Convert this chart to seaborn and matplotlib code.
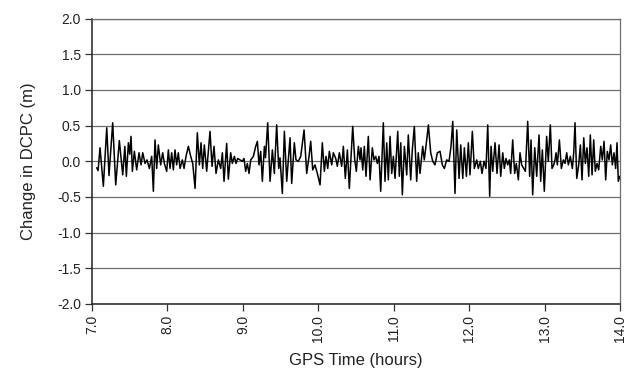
import numpy as np
import pandas as pd
import matplotlib
matplotlib.use("Agg")
import matplotlib.pyplot as plt
import seaborn as sns

# GPS time (hours) of each turning point
gps_time = [
    7.062, 7.080, 7.106, 7.150, 7.195, 7.225, 7.274, 7.314, 7.362, 7.407,
    7.435, 7.455, 7.482, 7.500, 7.517, 7.535, 7.561, 7.592, 7.623, 7.650,
    7.672, 7.703, 7.729, 7.760, 7.791, 7.813, 7.835, 7.857, 7.879, 7.910,
    7.937, 7.959,
    7.990, 8.012, 8.034, 8.056, 8.078, 8.100, 8.122, 8.144, 8.167, 8.197,
    8.220, 8.246, 8.277, 8.308, 8.335, 8.366, 8.396, 8.423, 8.445, 8.467,
    8.489, 8.520, 8.564, 8.591, 8.617, 8.644, 8.675, 8.706, 8.728, 8.750,
    8.785, 8.807, 8.838, 8.860, 8.887, 8.909, 8.931, 8.962, 8.993, 9.015,
    9.037, 9.059, 9.081, 9.104, 9.139, 9.170, 9.192, 9.214, 9.236, 9.258,
    9.285, 9.300, 9.329, 9.360, 9.391, 9.417, 9.448, 9.475, 9.492, 9.523,
    9.550, 9.581, 9.625, 9.647, 9.682,
    9.704, 9.735, 9.767, 9.811, 9.846, 9.877, 9.899, 9.926, 9.956, 9.987,
    10.023, 10.053, 10.080, 10.102, 10.125, 10.146, 10.178, 10.199, 10.231, 10.252,
    10.279, 10.310, 10.332, 10.358, 10.385, 10.411, 10.456, 10.483, 10.504, 10.531,
    10.553,
    10.566, 10.589, 10.610, 10.632, 10.663, 10.686, 10.716, 10.738, 10.761, 10.782,
    10.805, 10.827, 10.862, 10.884, 10.907, 10.928, 10.951, 10.973, 10.995, 11.017,
    11.053, 11.074, 11.093, 11.114, 11.141, 11.172, 11.193, 11.225, 11.246, 11.273,
    11.304, 11.325, 11.348, 11.384, 11.405,
    11.437, 11.459, 11.490, 11.517, 11.547, 11.578, 11.614, 11.644, 11.671, 11.702,
    11.733, 11.759, 11.782, 11.812, 11.835, 11.866, 11.888, 11.915, 11.936, 11.963,
    11.989, 12.011, 12.042, 12.068, 12.100, 12.121, 12.148, 12.170, 12.197, 12.223,
    12.246, 12.272,
    12.290, 12.312, 12.343, 12.369, 12.396, 12.418, 12.445, 12.466, 12.488, 12.511,
    12.532, 12.550, 12.577, 12.603, 12.625, 12.652, 12.674, 12.696, 12.723, 12.745,
    12.776, 12.802, 12.820, 12.842, 12.869, 12.895, 12.926, 12.948, 12.970, 12.996,
    13.027, 13.049, 13.076, 13.098, 13.121, 13.138,
    13.152, 13.169, 13.196, 13.222, 13.249, 13.271, 13.293, 13.315, 13.341, 13.368,
    13.386, 13.403, 13.426, 13.452, 13.474, 13.496, 13.519, 13.540, 13.562, 13.585,
    13.606, 13.629, 13.651, 13.672, 13.695, 13.717, 13.744, 13.765, 13.788, 13.810,
    13.831, 13.854, 13.876, 13.898, 13.920, 13.942, 13.960, 13.977, 13.996,
]

# Change in DCPC (m) at those times
dcpc_change = [
    -0.09, -0.13, 0.19, -0.35, 0.47, -0.20, 0.54, -0.33, 0.29, -0.19,
    0.21, -0.21, 0.26, 0.10, 0.35, -0.14, 0.14, -0.12, 0.12, -0.05,
    0.12, -0.03, 0.02, -0.10, 0.07, -0.42, 0.30, -0.10, 0.23, -0.05,
    0.12, -0.03,
    -0.14, 0.16, -0.10, 0.12, -0.12, 0.16, -0.05, 0.12, -0.10, 0.02,
    -0.10, 0.07, 0.21, 0.07, -0.03, -0.38, 0.40, -0.05, 0.26, -0.10,
    0.23, -0.14, 0.42, -0.07, 0.21, -0.17, 0.02, -0.10, 0.12, -0.28,
    0.25, -0.25, 0.12, -0.03, 0.07, -0.03, 0.04, 0.02, 0.00, 0.04,
    -0.14, -0.03, -0.17, 0.02, 0.07, 0.21, 0.28, -0.05, 0.14, -0.28,
    0.21, 0.05, 0.54, -0.28, 0.16, -0.17, 0.51, -0.10, 0.05, -0.45,
    0.42, -0.28, 0.33, -0.31, 0.26,
    0.02, 0.00, 0.07, 0.44, -0.17, 0.07, 0.28, -0.12, -0.05, -0.17,
    -0.33, 0.26, -0.14, 0.07, -0.10, 0.14, -0.05, 0.12, 0.04, -0.07,
    0.12, -0.07, 0.21, -0.24, 0.16, -0.38, 0.49, 0.02, -0.14, 0.21,
    0.02,
    0.19, -0.12, 0.21, -0.21, 0.35, -0.26, 0.19, 0.02, 0.07, -0.03,
    0.07, -0.42, 0.54, -0.28, 0.26, -0.26, 0.35, -0.17, 0.07, -0.24,
    0.42, -0.21, 0.26, -0.47, 0.21, -0.19, 0.37, -0.26, 0.16, 0.49,
    -0.28, 0.12, -0.17, 0.21, 0.02,
    0.30, 0.51, 0.12, 0.00, -0.05, 0.12, 0.14, -0.05, -0.10, 0.02,
    0.00, 0.21, 0.56, -0.45, 0.44, -0.24, 0.23, -0.24, 0.19, -0.21,
    0.26, -0.19, 0.42, -0.10, 0.02, -0.10, 0.00, -0.17, 0.00, -0.10,
    0.51, -0.49,
    0.21, -0.14, 0.26, -0.17, 0.23, -0.21, 0.12, -0.10, 0.04, -0.05,
    0.02, -0.17, 0.30, -0.17, -0.03, -0.26, 0.12, -0.05, -0.10, -0.14,
    0.56, -0.21, 0.30, -0.47, 0.19, -0.21, 0.37, -0.28, 0.16, -0.42,
    0.35, 0.00, 0.51, -0.10, -0.05, 0.02,
    0.12, -0.05, 0.30, -0.10, 0.02, -0.03, 0.12, -0.05, 0.07, -0.10,
    0.12, 0.54, -0.24, -0.05, 0.23, -0.26, 0.33, -0.03, 0.19, -0.21,
    0.37, -0.19, 0.30, -0.14, -0.03, -0.12, 0.21, 0.02, 0.28, -0.26,
    0.14, 0.02, 0.23, -0.05, 0.12, -0.10, 0.26, -0.28, -0.21,
]

x_ticks = [7.0, 8.0, 9.0, 10.0, 11.0, 12.0, 13.0, 14.0]
y_ticks = [-2.0, -1.5, -1.0, -0.5, 0.0, 0.5, 1.0, 1.5, 2.0]

df = pd.DataFrame({"time": gps_time, "dcpc": dcpc_change})

sns.set_style("white")
plt.rcParams["font.family"] = ["Liberation Sans", "DejaVu Sans"]
plt.rcParams["axes.unicode_minus"] = False

fig = plt.figure(figsize=(6.36, 3.73), dpi=100)
ax = fig.add_axes([0.1447, 0.185, 0.8302, 0.765])

for yv in y_ticks:
    ax.axhline(yv, color="#6e6e6e", linewidth=0.9, zorder=1)

sns.lineplot(data=df, x="time", y="dcpc", color="black", linewidth=1.1,
             ax=ax, zorder=3, sort=False)

ax.set_xlim(7.0, 14.0)
ax.set_ylim(-2.0, 2.0)
ax.set_xticks(x_ticks)
ax.set_xticklabels([f"{v:.1f}" for v in x_ticks], rotation=90)
ax.set_yticks(y_ticks)
ax.set_yticklabels([f"{v:.1f}" for v in y_ticks])

ax.tick_params(axis="both", which="major", direction="out", length=5,
               width=0.9, color="#333333", labelsize=10, labelcolor="#222222",
               left=True, bottom=True, pad=3)

for side in ["left", "bottom"]:
    ax.spines[side].set_color("#222222")
    ax.spines[side].set_linewidth(1.1)
for side in ["right", "top"]:
    ax.spines[side].set_color("#6e6e6e")
    ax.spines[side].set_linewidth(0.9)

ax.set_xlabel("GPS Time (hours)", fontsize=12, color="#222222", labelpad=8)
ax.set_ylabel("Change in DCPC (m)", fontsize=12, color="#222222", labelpad=15)

fig.savefig("out.png", dpi=100)
